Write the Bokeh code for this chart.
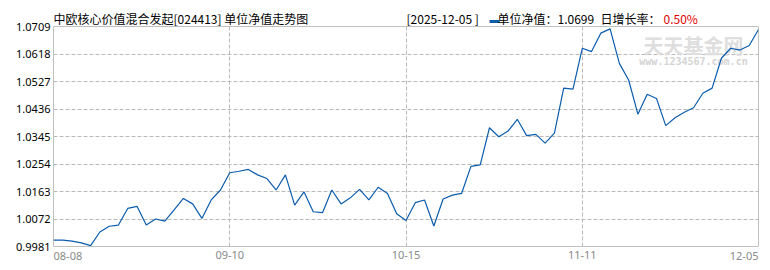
from bokeh.plotting import figure
from bokeh.models import Range1d, FixedTicker, Label, PrintfTickFormatter
from bokeh.core.properties import value
from bokeh.embed import file_html
from bokeh.resources import INLINE

# ---- data ----
nav = [1.0002, 1.0002, 0.9999, 0.9993, 0.9984, 1.0029, 1.0048, 1.0052, 1.0107, 1.0114,
       1.0052, 1.0072, 1.0065, 1.0102, 1.0140, 1.0122, 1.0074, 1.0135, 1.0168, 1.0225,
       1.0230, 1.0236, 1.0218, 1.0206, 1.0168, 1.0218, 1.0118, 1.0162, 1.0096, 1.0093,
       1.0168, 1.0122, 1.0142, 1.0170, 1.0135, 1.0177, 1.0156, 1.0089, 1.0067, 1.0126,
       1.0135, 1.0049, 1.0138, 1.0151, 1.0157, 1.0246, 1.0251, 1.0374, 1.0344, 1.0363,
       1.0402, 1.0348, 1.0352, 1.0323, 1.0356, 1.0505, 1.0502, 1.0637, 1.0626, 1.0687,
       1.0701, 1.0587, 1.0532, 1.0419, 1.0485, 1.0471, 1.0381, 1.0407, 1.0425, 1.0440,
       1.0488, 1.0505, 1.0604, 1.0637, 1.0631, 1.0646, 1.0699]
y_ticks = [0.9981, 1.0072, 1.0163, 1.0254, 1.0345, 1.0436, 1.0527, 1.0618, 1.0709]
x_tick_labels = ["08-08", "09-10", "10-15", "11-11", "12-05"]
title_text = "中欧核心价值混合发起[024413] 单位净值走势图"
header_date = "[2025-12-05 ]"
nav_label = "单位净值：1.0699"
change_label = "日增长率："
change_value = "0.50%"
watermark = "天天基金网"
watermark_url = "www.1234567.com.cn"

idx = list(range(len(nav)))
last = len(nav) - 1
x_ticks = [round(last * k / 4) for k in range(5)]

LINE = "#0b5cad"
GRID = "#b9b9b9"
CJK = "Noto Sans CJK SC"
W, H = 770, 270
BL, BR, BT, BB = 53, 12, 26, 24

p = figure(width=W, height=H, output_backend="svg", toolbar_location=None,
           x_range=Range1d(0, last), y_range=Range1d(y_ticks[0], y_ticks[-1]),
           min_border_left=BL, min_border_right=BR, min_border_top=BT, min_border_bottom=BB)
p.background_fill_color = "white"
p.border_fill_color = "white"
p.outline_line_color = "#c0c0c0"
p.outline_line_width = 1

# a pixel-like coordinate system for the header texts (canvas pixels)
p.extra_x_ranges = {"px": Range1d(BL, W - BR)}
p.extra_y_ranges = {"px": Range1d(H - BB, BT)}

# grids
p.xgrid.ticker = FixedTicker(ticks=x_ticks[1:-1])
p.ygrid.ticker = FixedTicker(ticks=y_ticks)
for g in (p.xgrid, p.ygrid):
    g.grid_line_color = GRID
    g.grid_line_dash = "4 2"
    g.grid_line_width = 1

# axes
for ax in (p.xaxis, p.yaxis):
    ax.axis_line_color = None
    ax.major_tick_line_color = None
    ax.minor_tick_line_color = None
    ax.major_tick_out = 0
    ax.major_tick_in = 0
    ax.minor_tick_out = 0
    ax.major_label_text_font = "Noto Sans"
    ax.major_label_text_font_size = "11px"

p.yaxis.ticker = FixedTicker(ticks=y_ticks)
p.yaxis.formatter = PrintfTickFormatter(format="%.4f")
p.yaxis.major_label_standoff = 3
p.yaxis.major_label_text_color = "#000000"

p.xaxis.ticker = FixedTicker(ticks=x_ticks[1:-1])
p.xaxis.major_label_overrides = {x_ticks[i]: x_tick_labels[i] for i in range(1, 4)}
p.xaxis.major_label_standoff = 4
p.xaxis.major_label_text_color = "#8a8a8a"

# watermark (inside the frame)
p.add_layout(Label(x=640, y=201, x_units="screen", y_units="screen", text=watermark,
                   text_align="center", text_baseline="middle", text_font=CJK,
                   text_font_size="20px", text_font_style="bold", text_color="#dedede",
                   level="underlay"))
p.add_layout(Label(x=640, y=185, x_units="screen", y_units="screen", text=watermark_url,
                   text_align="center", text_baseline="middle", text_font="DejaVu Sans Mono",
                   text_font_size="10px", text_font_style="bold", text_color="#d4d4d4",
                   level="underlay"))

# line
p.line(idx, nav, line_color=LINE, line_width=1.2)

# end labels of the x axis (left / right aligned), drawn unclipped
p.text(x=[x_ticks[0], x_ticks[-1]], y=[251, 251], y_range_name="px",
       text=[x_tick_labels[0], x_tick_labels[-1]], text_align=["left", "right"],
       text_baseline="top", text_font=value("Noto Sans"), text_font_size=value("11px"),
       text_color="#8a8a8a", level="overlay")

# header texts
hx = [53, 406, 489, 497, 600, 663]
ht = [title_text, header_date, "▬", nav_label, change_label, change_value]
hc = ["#000000", "#000000", LINE, "#000000", "#000000", "#e00000"]
hs = ["12px", "12px", "10px", "12px", "12px", "12px"]
p.text(x=hx, y=[17.5] * len(hx), x_range_name="px", y_range_name="px",
       text=ht, text_color=hc, text_font_size=hs, text_align="left",
       text_baseline="middle", text_font=value(CJK), level="overlay")

open("out.html", "w").write(file_html(p, INLINE))
